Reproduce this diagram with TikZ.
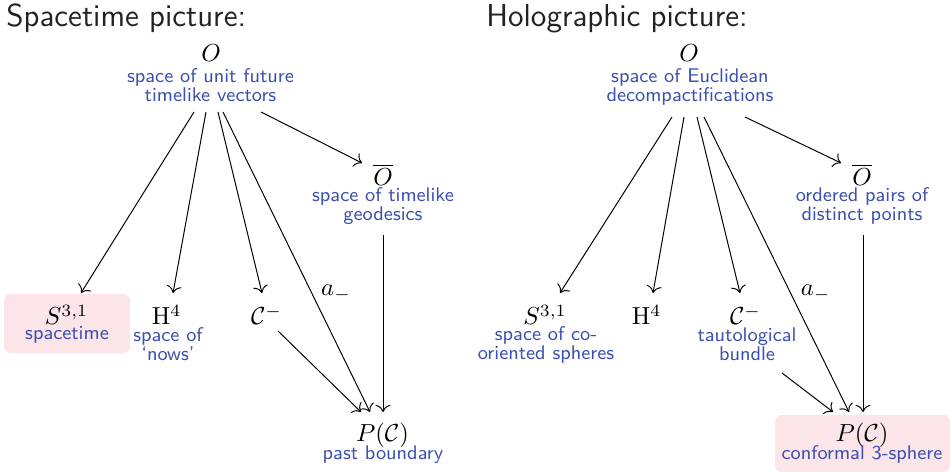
\documentclass[tikz,border=0pt]{standalone}
\usepackage{amsmath}
\usepackage{fix-cm}
\usetikzlibrary{calc,arrows.meta}
\definecolor{lblue}{RGB}{60,80,175}
\definecolor{pinkbg}{RGB}{251,229,232}
\definecolor{titlegray}{RGB}{34,34,34}
\begin{document}
\begin{tikzpicture}[x=0.4545pt,y=-0.4545pt,
  mth/.style={anchor=base,inner sep=0pt,font=\fontsize{11.2}{13}\selectfont},
  lab/.style={anchor=base,inner sep=0pt,align=center,text=lblue,font=\fontsize{9}{8.64}\selectfont\sffamily},
  ttl/.style={anchor=base west,inner sep=0pt,text=titlegray,font=\Large\sffamily},
  arr/.style={-{To[scale=1.25]},line width=0.45pt},
  box/.style={fill=pinkbg,rounded corners=3pt}]
\useasboundingbox (0,0) rectangle (951,473);
% pink boxes
\fill[box] (4,294) rectangle (130,353);
\fill[box] (775,415) rectangle (950,472);
% ---------------- left ----------------
\node[ttl] (T1) at (6,27) {Spacetime picture:};
\node[mth] (O) at (211,62) {$O$};
\node[lab] (Ol) at (210.5,102) {space of unit future\\timelike vectors};
\node[mth] (Ob) at (383,186) {$\overline{O}$};
\node[lab] (Obl) at (383,221) {space of timelike\\geodesics};
\node[mth] (S) at (66.5,325) {$S^{3,1}$};
\node[lab] (Sl) at (67,340) {spacetime};
\node[mth] (H) at (166.5,325) {$\mathrm{H}^4$};
\node[lab] (Hl) at (168,361) {space of\\`nows'};
\node[mth] (C) at (266.5,325) {$\mathcal{C}^-$};
\node[mth] (P) at (382.5,442) {$P(\mathcal{C})$};
\node[lab] (Pl) at (383,460) {past boundary};
\node[mth] (am) at (336,296) {$a_-$};
\draw[arr] ($(O.base)+(-17,50)$) -- ($(S.base)+(14.5,-32)$);
\draw[arr] ($(O.base)+(-5,50)$) -- ($(H.base)+(6.5,-32)$);
\draw[arr] ($(O.base)+(7,50)$) -- ($(C.base)+(-4.5,-32)$);
\draw[arr] ($(O.base)+(12,50)$) -- ($(P.base)+(-12.5,-30)$);
\draw[arr] ($(O.base)+(50,50)$) -- ($(Ob.base)+(-21,-23)$);
\draw[arr] ($(Ob.base)+(0,49)$) -- ($(P.base)+(0.5,-30)$);
\draw[arr] ($(C.base)+(11.5,6)$) -- ($(P.base)+(-21.5,-30)$);
% ---------------- right ----------------
\node[ttl] (T2) at (486,27) {Holographic picture:};
\node[mth] (O2) at (689,62) {$O$};
\node[lab] (O2l) at (690,102) {space of Euclidean\\decompactifications};
\node[mth] (Ob2) at (862,186) {$\overline{O}$};
\node[lab] (Ob2l) at (862,221) {ordered pairs of\\distinct points};
\node[mth] (S2) at (545,325) {$S^{3,1}$};
\node[lab] (S2l) at (546,360) {space of co-\\oriented spheres};
\node[mth] (H2) at (646.5,325) {$\mathrm{H}^4$};
\node[mth] (C2) at (745.5,325) {$\mathcal{C}^-$};
\node[lab] (C2l) at (747,361) {tautological\\bundle};
\node[mth] (P2) at (862,442) {$P(\mathcal{C})$};
\node[lab] (P2l) at (862,460) {conformal 3-sphere};
\node[mth] (am2) at (815.5,296) {$a_-$};
\draw[arr] ($(O2.base)+(-17,55)$) -- ($(S2.base)+(15,-32)$);
\draw[arr] ($(O2.base)+(-5,55)$) -- ($(H2.base)+(6.5,-32)$);
\draw[arr] ($(O2.base)+(8,55)$) -- ($(C2.base)+(-5.5,-32)$);
\draw[arr] ($(O2.base)+(15,55)$) -- ($(P2.base)+(-13,-30)$);
\draw[arr] ($(O2.base)+(56,55)$) -- ($(Ob2.base)+(-21,-23)$);
\draw[arr] ($(Ob2.base)+(1,49)$) -- ($(P2.base)+(1,-30)$);
\draw[arr] ($(C2.base)+(36.5,48)$) -- ($(P2.base)+(-29,-30)$);
\end{tikzpicture}
\end{document}
